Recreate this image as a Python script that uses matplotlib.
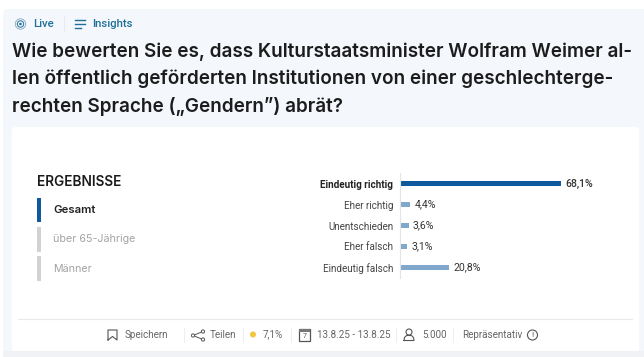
import matplotlib
matplotlib.use("Agg")
import matplotlib.pyplot as plt
from matplotlib.patches import Rectangle, Circle, FancyBboxPatch

W, H = 644, 357

categories = ["Eindeutig richtig", "Eher richtig", "Unentschieden", "Eher falsch", "Eindeutig falsch"]
values = [68.1, 4.4, 3.6, 3.1, 20.8]
value_labels = ["68,1%", "4,4%", "3,6%", "3,1%", "20,8%"]
title_lines = [
    "Wie bewerten Sie es, dass Kulturstaatsminister Wolfram Weimer al-",
    "len öffentlich geförderten Institutionen von einer geschlechterge-",
    "rechten Sprache („Gendern”) abrät?",
]
tabs = ["Gesamt", "über 65-Jährige", "Männer"]

DARK = "#0f5a9c"
LIGHT = "#7fa8cc"
TEAL = "#1f6f98"
GREY = "#666666"

fig = plt.figure(figsize=(W / 100, H / 100), dpi=100, facecolor="white")

# pixel canvas for the page furniture
bg = fig.add_axes([0, 0, 1, 1])
bg.set_xlim(0, W)
bg.set_ylim(H, 0)
bg.axis("off")

bg.add_patch(FancyBboxPatch((3, 9), 645, 360, boxstyle="round,pad=0,rounding_size=5",
                            fc="#f4f7fc", ec="none"))
bg.add_patch(Rectangle((3, 351), 641, 6, fc="#f1f2f5", ec="none"))
bg.add_patch(FancyBboxPatch((12, 127), 627, 224, boxstyle="round,pad=0,rounding_size=3",
                            fc="white", ec="none"))

# header
bg.add_patch(Circle((20.5, 24), 1.3, fc=TEAL, ec="none"))
bg.add_patch(Circle((20.5, 24), 3.2, fc="none", ec=TEAL, lw=0.7))
bg.add_patch(Circle((20.5, 24), 5.2, fc="none", ec="#7fa9c2", lw=0.6))
bg.text(33, 24, "Live", fontsize=8.2, family="Roboto", color=TEAL, va="center", weight="medium")
bg.plot([64, 64], [16, 31], color="#e6ebf1", lw=0.8)
for y0, x1 in [(20, 85), (24, 85), (28, 81)]:
    bg.plot([75, x1], [y0, y0], color=TEAL, lw=1)
bg.text(92, 24, "Insights", fontsize=8.2, family="Roboto", color=TEAL, va="center", weight="medium")

for i, line in enumerate(title_lines):
    bg.text(12, 52 + i * 27, line, fontsize=13.6, family="Inter", weight="semibold",
            color="#1c1c1c", va="center")

# left tab list
bg.text(37, 182, "ERGEBNISSE", fontsize=9.8, family="Inter", weight="semibold", color="#1a1a1a", va="center")
for i, tab in enumerate(tabs):
    y = 210 + i * 29.3
    bg.add_patch(Rectangle((37, y - 12.3), 4, 24.6, fc=DARK if i == 0 else "#d2d2d2", ec="none"))
    bg.text(53, y, tab, fontsize=8.2 if i == 0 else 7.7, family="Inter", va="center",
            weight="semibold" if i == 0 else "normal", color="#222222" if i == 0 else "#a3a3a3")

# bar chart
x0, x1 = 400, 561
y_top, y_bottom = 173, 278
ax = fig.add_axes([x0 / W, 1 - y_bottom / H, (x1 - x0) / W, (y_bottom - y_top) / H])
ax.patch.set_alpha(0)
ax.set_xlim(0, 68.1)
ax.set_ylim(len(values) - 0.5, -0.5)
colors = [DARK] + [LIGHT] * 4
ax.barh(range(len(values)), values, height=0.24, color=colors)
ax.set_yticks(range(len(values)))
ax.set_yticklabels(categories, fontsize=7.1, family="Roboto", color="#444444")
ax.get_yticklabels()[0].set_weight("bold")
ax.get_yticklabels()[0].set_color("#222222")
ax.tick_params(axis="y", length=0, pad=5)
ax.set_xticks([])
for s in ["top", "right", "bottom"]:
    ax.spines[s].set_visible(False)
ax.spines["left"].set_color("#e4e4e4")
ax.spines["left"].set_linewidth(0.8)
for i, (v, lab) in enumerate(zip(values, value_labels)):
    ax.annotate(lab, (v, i), xytext=(3.2, 0), textcoords="offset points", va="center",
                fontsize=7.6, family="Roboto", color="#333333", weight="medium" if i == 0 else "normal")

# footer
bg.plot([18, 632], [319, 319], color="#e9e9e9", lw=0.8)
fy = 335
for x in [184, 243, 291, 396, 453]:
    bg.plot([x, x], [fy - 7, fy + 7], color="#eeeeee", lw=0.7)
bg.plot([108, 108, 117, 117, 112.5, 108], [340, 330, 330, 340, 336.5, 340], color="#555555", lw=0.8)
for x, t in [(125, "Speichern"), (209.5, "Teilen"), (263, "7,1%"), (317, "13.8.25 - 13.8.25"),
             (422, "5.000"), (462, "Repräsentativ")]:
    bg.text(x, fy - 0.5, t, fontsize=7.1, family="Roboto", color=GREY, va="center")
# share icon
bg.plot([203, 193, 203], [331.5, 335.5, 339.5], color="#555555", lw=0.7)
for cx, cy in [(203, 331.5), (193, 335.5), (203, 339.5)]:
    bg.add_patch(Circle((cx, cy), 1.6, fc="white", ec="#555555", lw=0.7, zorder=3))
bg.add_patch(Circle((253, 334.5), 3, fc="#f2c53d", ec="none"))
# calendar icon
bg.add_patch(Rectangle((299, 329), 11, 12, fc="white", ec="#555555", lw=0.9))
bg.add_patch(Rectangle((299, 329), 11, 3, fc="#777777", ec="none"))
bg.text(304.5, 336.5, "7", fontsize=5, family="Roboto", color="#555555", ha="center", va="center")
# person icon
bg.add_patch(Circle((409, 332), 3, fc="white", ec="#555555", lw=0.8))
bg.plot([404, 404.5, 406.5, 411.5, 413.5, 414, 404], [340.5, 337.5, 335.5, 335.5, 337.5, 340.5, 340.5],
        color="#555555", lw=0.8)
# info icon
bg.add_patch(Circle((532.5, 335), 5, fc="white", ec="#555555", lw=0.8))
bg.text(532.5, 334.7, "!", fontsize=6, family="Roboto", color="#555555", ha="center", va="center")

fig.savefig("out.png", dpi=100, facecolor="white")
